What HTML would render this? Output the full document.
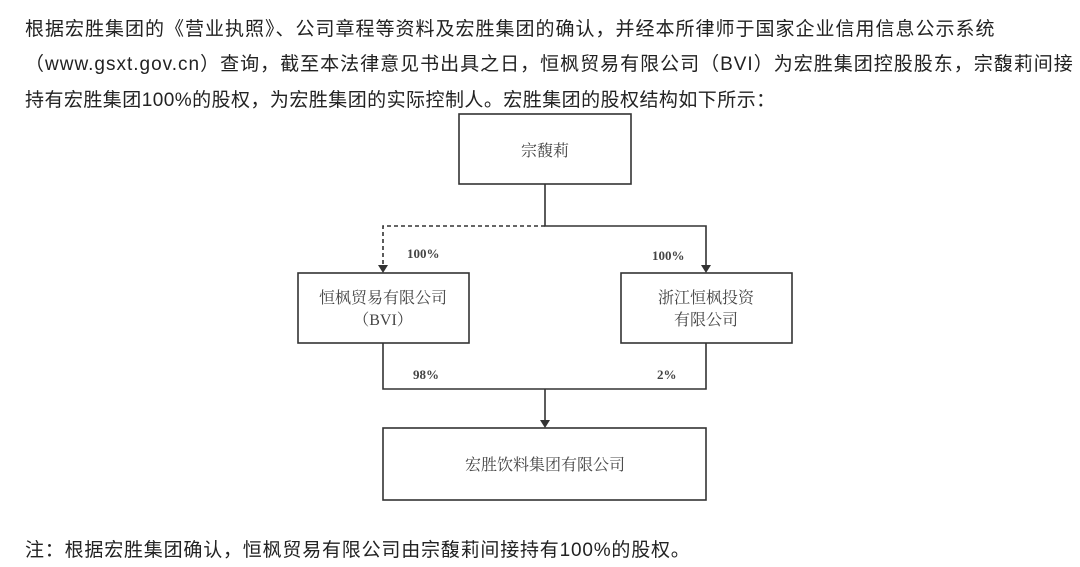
<!DOCTYPE html>
<html><head><meta charset="utf-8"><style>
body{margin:0;width:1080px;height:567px;background:#fff;overflow:hidden;font-family:"Liberation Sans","Noto Sans CJK SC",sans-serif;color:#222;}
.p{position:absolute;left:25px;font-size:19px;white-space:nowrap}
</style></head><body>
<div class="p" style="top:14px;letter-spacing:1px">根据宏胜集团的《营业执照》、公司章程等资料及宏胜集团的确认，并经本所律师于国家企业信用信息公示系统</div>
<div class="p" style="top:49px;letter-spacing:1px">（www.gsxt.gov.cn）查询，截至本法律意见书出具之日，恒枫贸易有限公司（BVI）为宏胜集团控股股东，宗馥莉间接</div>
<div class="p" style="top:85px;letter-spacing:0.45px">持有宏胜集团100%的股权，为宏胜集团的实际控制人。宏胜集团的股权结构如下所示：</div>
<div class="p" style="top:535px;letter-spacing:0.8px">注：根据宏胜集团确认，恒枫贸易有限公司由宗馥莉间接持有100%的股权。</div>
<svg width="1080" height="567" style="position:absolute;left:0;top:0" font-family="Liberation Serif,Noto Serif CJK SC,serif" fill="#333">
<g stroke="#333" stroke-width="1.6" fill="none">
<rect x="459" y="114" width="172" height="70"/>
<rect x="298" y="273" width="171" height="70"/>
<rect x="621" y="273" width="171" height="70"/>
<rect x="383" y="428" width="323" height="72"/>
<polyline points="545,184 545,226 706,226 706,266"/>
<polyline points="545,226 383,226 383,266" stroke-dasharray="4,3"/>
<polyline points="383,343 383,389 706,389 706,343"/>
<line x1="545" y1="389" x2="545" y2="421"/>
</g>
<g fill="#333">
<polygon points="378,265 388,265 383,273"/>
<polygon points="701,265 711,265 706,273"/>
<polygon points="540,420 550,420 545,428"/>
</g>
<g font-size="16" text-anchor="middle" fill="#444">
<text x="545" y="156">宗馥莉</text>
<text x="383" y="303">恒枫贸易有限公司</text>
<text x="383" y="325">（BVI）</text>
<text x="706" y="303">浙江恒枫投资</text>
<text x="706" y="325">有限公司</text>
<text x="545" y="470">宏胜饮料集团有限公司</text>
</g>
<g font-size="13" font-weight="bold" fill="#444">
<text x="407" y="258">100%</text>
<text x="652" y="260">100%</text>
<text x="413" y="379">98%</text>
<text x="657" y="379">2%</text>
</g>
</svg>
</body></html>
